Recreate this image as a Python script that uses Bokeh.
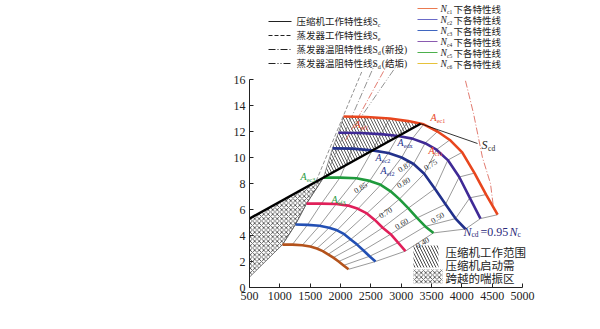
import numpy as np
from bokeh.plotting import figure
from bokeh.models import Range1d, FixedTicker, Label
from bokeh.core.properties import value
from bokeh.embed import file_html
from bokeh.resources import INLINE

# ---------------- data ----------------
x_ticks = [500, 1000, 1500, 2000, 2500, 3000, 3500, 4000, 4500, 5000]
y_ticks = [0, 2, 4, 6, 8, 10, 12, 14, 16]

# speed characteristic lines (flow kg/h, temperature rise degC)
n1_x = [2050, 2431, 2812, 3117, 3371, 3599, 3802, 4006, 4209, 4400, 4590]
n1_y = [13.15, 13.12, 13.0, 12.8, 12.55, 12.0, 11.35, 10.4, 8.8, 7.15, 5.6]
n2_x = [1967, 2318, 2669, 2950, 3184, 3394, 3582, 3769, 3957, 4132, 4307]
n2_y = [11.9, 11.88, 11.8, 11.65, 11.45, 11.1, 10.6, 9.8, 8.5, 6.9, 5.3]
n3_x = [1868, 2197, 2526, 2789, 3008, 3205, 3380, 3556, 3731, 3896, 4060]
n3_y = [10.7, 10.68, 10.55, 10.35, 10.0, 9.5, 8.75, 7.6, 6.4, 5.3, 4.5]
n4_x = [1720, 1992, 2264, 2481, 2663, 2826, 2971, 3116, 3261, 3397, 3533]
n4_y = [8.45, 8.45, 8.4, 8.2, 7.9, 7.4, 6.8, 6.1, 5.35, 4.7, 4.2]
n5_x = [1440, 1685, 1929, 2125, 2288, 2435, 2565, 2696, 2827, 2949, 3071]
n5_y = [6.45, 6.45, 6.42, 6.3, 6.05, 5.7, 5.2, 4.6, 4.1, 3.45, 2.8]
n6_x = [1258, 1456, 1654, 1812, 1944, 2062, 2168, 2274, 2379, 2478, 2577]
n6_y = [4.85, 4.82, 4.75, 4.6, 4.4, 4.1, 3.7, 3.3, 2.85, 2.4, 2.0]
n7_x = [1044, 1207, 1370, 1501, 1610, 1708, 1795, 1882, 1969, 2051, 2132]
n7_y = [3.3, 3.3, 3.25, 3.15, 3.0, 2.8, 2.55, 2.3, 2.0, 1.7, 1.4]

# compressor working characteristic S_c
sc_x = [500, 3320]
sc_y = [5.3, 12.6]
# lower edge of surge zone at the axis
surge_low_y = 0.8

# evaporator lines (upper left)
se_x = [1600, 2360]
se_y = [8.2, 16.7]
sdn_x = [1835, 2577]
sdn_y = [9.4, 17.3]
sdr_x = [2082, 2824]
sdr_y = [11.3, 17.6]
sdf_x = [2247, 2989]
sdf_y = [12.5, 17.5]
# red dash-dot line on the right
sdr2_x = [4060, 4192, 4340, 4472, 4522]
sdr2_y = [15.9, 13.4, 10.0, 8.0, 6.15]

eff_labels = ["0.87", "0.85", "0.80", "0.75", "0.70", "0.60", "0.50", "0.40"]

speed_names = ["c1", "c2", "c3", "c4", "c5", "c6"]

# ---------------- layout helpers ----------------
W, H = 600, 329
LEFT, BOTTOM = 249, 287
SX = 273 / 4500.0
SY = 13.0


def dx(px):
    return 500 + (px - LEFT) / SX


def dy(py):
    return (BOTTOM - py) / SY


SERIF = "Liberation Serif, Noto Sans CJK SC"
CJK = "Noto Sans CJK SC"

p = figure(width=W, height=H, x_range=Range1d(500, dx(W)), y_range=Range1d(0, dy(0)),
           output_backend="svg", toolbar_location=None,
           min_border_left=LEFT, min_border_bottom=H - BOTTOM,
           min_border_top=0, min_border_right=0)
p.outline_line_color = None
p.grid.visible = False
p.background_fill_color = "white"

for ax, b, t in ((p.xaxis[0], (500, 5000), x_ticks), (p.yaxis[0], (0, 16), y_ticks)):
    ax.bounds = b
    ax.ticker = FixedTicker(ticks=t)
    ax.major_tick_in = 4
    ax.major_tick_out = 0
    ax.minor_tick_line_color = None
    ax.axis_line_color = "#222"
    ax.major_tick_line_color = "#222"
    ax.major_label_text_font = "Liberation Serif"
    ax.major_label_text_font_size = "12px"
    ax.major_label_text_color = "#222"
    ax.major_label_standoff = 4

# axis titles as labels centred on the drawn axes
p.add_layout(Label(x=dx(385), y=dy(314), text="流量m/(kg/h)", text_font=SERIF,
                   text_font_size="12px", text_align="center", text_baseline="middle",
                   text_color="#222"))
p.add_layout(Label(x=dx(221), y=dy(183), text="温升(温差)ΔT/°C", text_font=SERIF,
                   text_font_size="12px", text_align="center", text_baseline="middle",
                   angle=np.pi / 2, text_color="#222"))

curves = [(n1_x, n1_y), (n2_x, n2_y), (n3_x, n3_y), (n4_x, n4_y),
          (n5_x, n5_y), (n6_x, n6_y), (n7_x, n7_y)]
curve_colors = ["#e8461e", "#3f2a96", "#22318c", "#1f9a3c", "#e0205a", "#2350b4", "#b4531c"]

# surge zone (cross hatch)
cross_x = [sc_x[0], n4_x[0], n5_x[0], n6_x[0], n7_x[0], sc_x[0]]
cross_y = [sc_y[0], n4_y[0], n5_y[0], n6_y[0], n7_y[0], surge_low_y]
p.patch(cross_x, cross_y, fill_color="white", line_color="#333", line_width=0.6,
        hatch_pattern="diagonal_cross", hatch_scale=4.5, hatch_weight=0.7, hatch_color="#222")

# compressor working range (diagonal hatch)
top_x = [x for x in n1_x if x < sc_x[1]]
top_y = [y for x, y in zip(n1_x, n1_y) if x < sc_x[1]]
hx = [n4_x[0], n3_x[0], n2_x[0]] + top_x + [sc_x[1]]
hy = [n4_y[0], n3_y[0], n2_y[0]] + top_y + [sc_y[1]]
p.patch(hx, hy, fill_color="white", fill_alpha=1, line_color=None,
        hatch_pattern="\\", hatch_scale=6, hatch_weight=0.8, hatch_color="#333")

# thin grid lines connecting matching points of the speed lines
for i in range(len(n1_x)):
    gx = [c[0][i] for c in curves]
    gy = [c[1][i] for c in curves]
    p.line(gx, gy, line_color="#555", line_width=0.6)

# evaporator characteristic lines
p.line(se_x, se_y, line_color="#777", line_width=0.8, line_dash="4 2")
p.line(sdn_x, sdn_y, line_color="#777", line_width=0.8, line_dash="7 2 1 2")
p.line(sdr_x, sdr_y, line_color="#d9584a", line_width=0.8, line_dash="7 2 1 2")
p.line(sdf_x, sdf_y, line_color="#777", line_width=0.8, line_dash="7 2 1 2 1 2")
p.line(sdr2_x, sdr2_y, line_color="#d9584a", line_width=0.8, line_dash="7 2 1 2")

# speed characteristic lines
for (cx, cy), col in zip(curves, curve_colors):
    p.line(cx, cy, line_color=col, line_width=2.6, line_join="round")

# compressor line S_c
p.line(sc_x, sc_y, line_color="black", line_width=2.4)
p.line([sc_x[1], dx(477)], [sc_y[1], dy(143)], line_color="black", line_width=0.8)


def txt(px, py, s, size, color="#222", font=SERIF, style="normal", align="left",
        baseline="middle", angle=0.0, xo=0, yo=0):
    p.text(x=[dx(px)], y=[dy(py)], text=[s], text_font=value(font),
           text_font_size=value(f"{size}px"), text_color=color, text_font_style=style,
           text_align=align, text_baseline=baseline, angle=angle, x_offset=xo, y_offset=yo)


def sym(px, py, base, sub, size, color="#222", after=""):
    txt(px, py, base, size, color, "Liberation Serif", "italic")
    bw = 0.62 * size if base in ("N", "A") else 0.55 * size
    txt(px + bw, py + 0.3 * size, sub, size * 0.62, color, "Liberation Serif")
    if after:
        txt(px + bw + 0.34 * size * len(sub), py, after, size, color, SERIF)


# S_cd label
sym(481, 144, "S", "cd", 12)
# N_cd = 0.95 N_c
txt(463, 231, "N", 12, "#2b2a7a", "Liberation Serif", "italic")
txt(471, 234, "cd", 7.5, "#2b2a7a", "Liberation Serif")
txt(480, 231, "=0.95", 12, "#2b2a7a", "Liberation Serif")
txt(509, 231, "N", 12, "#2b2a7a", "Liberation Serif", "italic")
txt(517, 234, "c", 7.5, "#2b2a7a", "Liberation Serif")

# point labels
sym(430, 117, "A", "ec1", 10, curve_colors[0])
sym(354, 124, "A", "ef1", 10, curve_colors[0])
sym(428, 150, "A", "cf1", 10, curve_colors[0])
sym(397, 142, "A", "edx", 10, curve_colors[2])
sym(375, 157, "A", "ec2", 10, curve_colors[2])
sym(380, 170, "A", "ef2", 10, curve_colors[2])
sym(300, 176, "A", "ec3", 10, curve_colors[3])
sym(331, 199, "A", "ef3", 10, curve_colors[3])

# efficiency labels
eff_pos = [(404, 166), (360, 187), (403, 182), (430, 164), (385, 212), (401, 223),
           (437, 217), (422, 242)]
for lab, (ex, ey) in zip(eff_labels, eff_pos):
    txt(ex, ey, lab, 8, "#333", "Liberation Serif", align="center", angle=0.55)

# ---------------- legends ----------------
leg1 = [("压缩机工作特性线S", "c", "", None),
        ("蒸发器工作特性线S", "e", "", "4 2"),
        ("蒸发器温阻特性线S", "d", "(新投)", "7 2 1 2"),
        ("蒸发器温阻特性线S", "d", "(结垢)", "7 2 1 2 1 2")]
for k, (t, sub, aft, dash) in enumerate(leg1):
    py = 21 + 14 * k
    kw = dict(line_color="#222", line_width=1.2)
    if dash:
        kw["line_dash"] = dash
    p.line([dx(268), dx(291)], [dy(py), dy(py)], **kw)
    fs = 9.5
    txt(296, py, t, fs, "#222", SERIF)
    tw = 8 * fs + 0.55 * fs
    txt(296 + tw, py + 3, sub, 6, "#222", "Liberation Serif")
    if aft:
        txt(296 + tw + 4, py, aft, fs, "#222", SERIF)

leg2_colors = ["#ea7a50", "#6a6ac8", "#3f66c0", "#8a5ab0", "#4cb04c", "#e6c23a"]
for k, (nm, col) in enumerate(zip(speed_names, leg2_colors)):
    py = 8 + 11 * k
    p.line([dx(417), dx(437)], [dy(py), dy(py)], line_color=col, line_width=1.2)
    txt(440, py, "N", 9.5, "#222", "Liberation Serif", "italic")
    txt(446.5, py + 3, nm, 5.5, "#222", "Liberation Serif")
    txt(453, py, "下各特性线", 9.5, "#222", CJK)

# hatch legend
p.quad(left=[dx(413)], right=[dx(438)], bottom=[dy(267)], top=[dy(245)],
       fill_alpha=0, line_color=None, hatch_pattern="\\", hatch_scale=6,
       hatch_weight=0.9, hatch_color="#333")
p.quad(left=[dx(413)], right=[dx(442)], bottom=[dy(283)], top=[dy(269)],
       fill_color="white", line_color=None, hatch_pattern="diagonal_cross", hatch_scale=4.5,
       hatch_weight=0.7, hatch_color="#222")
for k, t in enumerate(["压缩机工作范围", "压缩机启动需", "跨越的喘振区"]):
    txt(445, [251, 264, 277][k], t, 11.5, "#222", CJK)

open("out.html", "w").write(file_html(p, INLINE))
